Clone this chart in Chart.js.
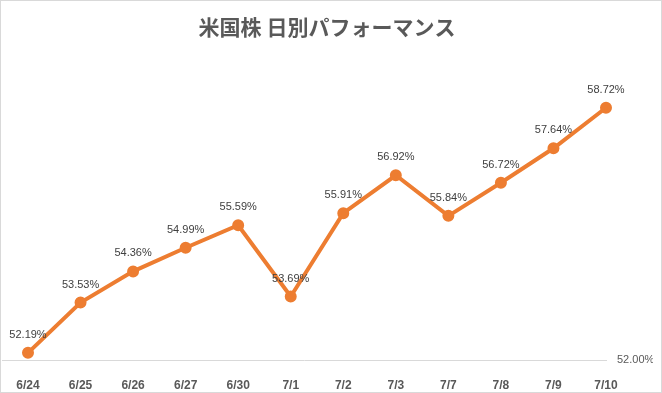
<!DOCTYPE html>
<html>
<head>
<meta charset="utf-8">
<script src="https://cdn.jsdelivr.net/npm/chart.js"></script>
<style>
  html, body { margin: 0; padding: 0; background: #fff; }
  #wrap { width: 660px; height: 391px; border: 1px solid #d9d9d9; position: relative; }
</style>
</head>
<body>
<div id="wrap"><canvas id="chart" width="660" height="391"></canvas></div>
<script>
const days = ['6/24', '6/25', '6/26', '6/27', '6/30', '7/1', '7/2', '7/3', '7/7', '7/8', '7/9', '7/10'];
const perf = [52.19, 53.53, 54.36, 54.99, 55.59, 53.69, 55.91, 56.92, 55.84, 56.72, 57.64, 58.72];
const yMin = 52;
const yMax = 59;

// labels above each point
const pointLabels = {
    id: 'pointLabels',
    afterDatasetsDraw(chart) {
        const ctx = chart.ctx;
        const meta = chart.getDatasetMeta(0);
        ctx.save();
        ctx.font = '11px "Liberation Sans", Arial, sans-serif';
        ctx.fillStyle = '#404040';
        ctx.textAlign = 'center';
        ctx.textBaseline = 'middle';
        meta.data.forEach((pt, i) => {
            ctx.fillText(perf[i].toFixed(2) + '%', pt.x, pt.y - 18);
        });
        ctx.restore();
    }
};

// baseline across the plot
const baseLine = {
    id: 'baseLine',
    beforeDatasetsDraw(chart) {
        const ctx = chart.ctx;
        const y = Math.round(chart.scales.y.getPixelForValue(yMin)) + 0.5;
        ctx.save();
        ctx.strokeStyle = '#d9d9d9';
        ctx.lineWidth = 1;
        ctx.beginPath();
        ctx.moveTo(1, y);
        ctx.lineTo(chart.chartArea.right + 1, y);
        ctx.stroke();
        ctx.restore();
    }
};

const ctx = document.getElementById('chart').getContext('2d');
new Chart(ctx, {
    type: 'line',
    data: {
        labels: days,
        datasets: [{
            data: perf,
            borderColor: '#ED7D31',
            backgroundColor: '#ED7D31',
            borderWidth: 4,
            pointRadius: 4,
            pointHoverRadius: 4,
            tension: 0
        }]
    },
    options: {
        responsive: false,
        animation: false,
        layout: { padding: { left: 0, right: 8, top: 0, bottom: 0 } },
        plugins: {
            legend: { display: false },
            tooltip: { enabled: false },
            title: {
                display: true,
                text: '米国株 日別パフォーマンス',
                color: '#595959',
                font: { family: '"Noto Sans CJK JP"', size: 21, weight: 'bold' },
                padding: { top: 13, bottom: 58 }
            }
        },
        scales: {
            x: {
                offset: false,
                grid: { display: false },
                border: { display: false },
                afterFit: s => { s.height = 32; },
                ticks: {
                    color: '#595959',
                    font: { family: '"Liberation Sans", Arial, sans-serif', size: 12, weight: 'bold' },
                    padding: 10,
                    maxRotation: 0,
                    autoSkip: false
                }
            },
            // empty left axis, only keeps the first point off the edge
            left: {
                position: 'left',
                grid: { display: false },
                border: { display: false },
                ticks: { display: false },
                afterFit: s => { s.width = 27; }
            },
            y: {
                position: 'right',
                min: yMin,
                max: yMax,
                grid: { display: false },
                border: { display: false },
                afterFit: s => { s.width = 47; },
                ticks: {
                    stepSize: 1,
                    color: '#595959',
                    font: { family: '"Liberation Sans", Arial, sans-serif', size: 11 },
                    padding: 3,
                    callback: v => v === yMin ? v.toFixed(2) + '%' : ''
                }
            }
        }
    },
    plugins: [pointLabels, baseLine]
});
</script>
</body>
</html>
